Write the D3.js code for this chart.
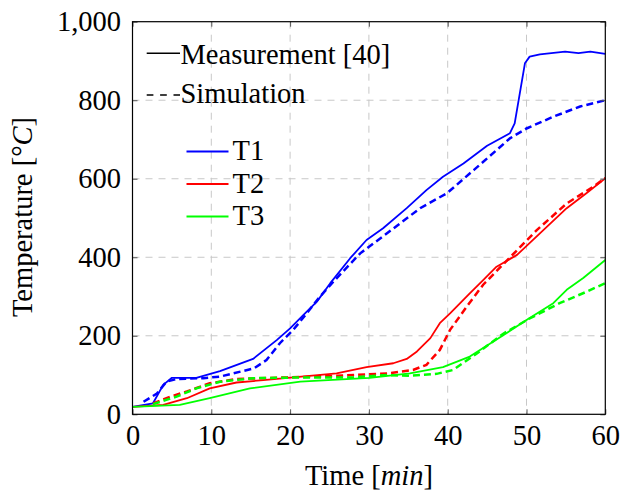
<!DOCTYPE html>
<html><head><meta charset="utf-8">
<script src="https://cdn.jsdelivr.net/npm/d3@7"></script>
<style>body{margin:0;background:#fff}svg{display:block}text{font-family:"Liberation Serif","Times New Roman",serif;fill:#000}</style>
</head><body><svg id="c" width="622" height="492"></svg>
<script>
const xTicks=[0,10,20,30,40,50,60];
const yTicks=[0,200,400,600,800,1000];
const t1Meas=[[0,19],[2.6,28],[3.9,75],[5,93],[8.1,93],[11.1,110],[15.3,141],[18.3,189],[20,219],[21.7,253],[23.4,287],[25.1,334],[27.6,397],[29.7,444],[31.8,474],[34.8,525],[37.3,571],[39.4,605],[42,639],[45,684],[47.9,716],[48.5,741],[49.8,894],[50.4,911],[51.7,917],[54.9,924],[56.6,920],[58.1,924],[60,918]];
const t1Sim=[[1.4,32],[3.1,53],[4.3,83],[5.6,90],[9,92],[11.1,96],[15.4,117],[17,138],[18.7,181],[20.4,215],[22.1,257],[23.8,300],[25.5,338],[28.9,410],[32.3,461],[36.5,525],[39.9,563],[43.3,622],[46.2,673],[47.9,703],[50,728],[53.4,758],[56.8,784],[60,800]];
const t2Meas=[[0,19],[3.9,24],[6.9,41],[9.8,66],[13.2,81],[16.6,87],[20.4,94],[25.9,104],[29.7,120],[33.1,130],[34.8,141],[36.1,160],[37.8,194],[39,232],[40.3,257],[42.8,308],[44.5,342],[46.2,376],[48.8,406],[51.7,461],[55.1,525],[57.6,563],[60,601]];
const t2Sim=[[2.6,28],[4.8,45],[6.9,58],[9.8,79],[13.2,90],[19.6,94],[25.9,98],[32.3,104],[35.6,113],[37.3,126],[39,164],[40.3,215],[42.4,274],[44.5,330],[48.8,418],[51.3,469],[55.1,537],[58.5,580],[60,602]];
const t3Meas=[[0,19],[6,24],[9.8,41],[14.9,66],[21.3,83],[30.1,93],[35.2,104],[39.4,120],[42.8,147],[47.1,202],[50,240],[53.4,283],[55.1,317],[57.2,347],[60,393]];
const t3Sim=[[2.6,26],[5.6,45],[8.1,66],[11.1,83],[15.3,92],[21.7,94],[28,94],[32.3,100],[35.2,98],[38.6,103],[40.7,113],[43.7,155],[47.1,206],[50.4,244],[54.2,283],[57.6,312],[60,334]];
const series=[
 {name:"T1",color:"#0000ff",meas:t1Meas,sim:t1Sim},
 {name:"T2",color:"#ff0000",meas:t2Meas,sim:t2Sim},
 {name:"T3",color:"#00ff00",meas:t3Meas,sim:t3Sim}];

const svg=d3.select("#c");
const L=132.5,R=605.3,T=21.7,B=414.3;
const x=d3.scaleLinear().domain([0,60]).range([L,R]);
const y=d3.scaleLinear().domain([0,1000]).range([B,T]);
const g=svg.append("g");
// grid
g.selectAll(".gx").data(xTicks.slice(1,-1)).enter().append("line")
 .attr("x1",d=>x(d)).attr("x2",d=>x(d)).attr("y1",T).attr("y2",B)
 .attr("stroke","#c8c8c8").attr("stroke-width",1).attr("stroke-dasharray","7,6");
g.selectAll(".gy").data(yTicks.slice(1,-1)).enter().append("line")
 .attr("y1",d=>y(d)).attr("y2",d=>y(d)).attr("x1",L).attr("x2",R)
 .attr("stroke","#c8c8c8").attr("stroke-width",1).attr("stroke-dasharray","7,6");
// lines
const line=d3.line().x(d=>x(d[0])).y(d=>y(d[1]));
series.forEach(s=>{
 g.append("path").attr("d",line(s.meas)).attr("fill","none").attr("stroke",s.color).attr("stroke-width",1.8).attr("stroke-linejoin","round");
 g.append("path").attr("d",line(s.sim)).attr("fill","none").attr("stroke",s.color).attr("stroke-width",2.5).attr("stroke-dasharray","7,4");
});
// axes
const fs=28.5;
const xa=d3.axisBottom(x).tickValues(xTicks).tickSize(-5).tickPadding(10.5).tickFormat(d3.format("d"));
const ya=d3.axisLeft(y).tickValues(yTicks).tickSize(-5).tickPadding(11.5).tickFormat(d3.format(","));
const gx=svg.append("g").attr("transform",`translate(0,${B})`).call(xa);
const gy=svg.append("g").attr("transform",`translate(${L},0)`).call(ya);
svg.append("g").attr("transform",`translate(0,${T})`).call(d3.axisTop(x).tickValues(xTicks).tickSize(-5).tickFormat(""));
svg.append("g").attr("transform",`translate(${R},0)`).call(d3.axisRight(y).tickValues(yTicks).tickSize(-5).tickFormat(""));
svg.selectAll(".domain").remove();
svg.selectAll(".tick line").attr("stroke","#555").attr("stroke-width",1);
gx.selectAll("text").attr("font-size",fs).attr("font-family","Liberation Serif").attr("fill","#000");
gy.selectAll("text").attr("font-size",fs).attr("font-family","Liberation Serif").attr("fill","#000");
svg.append("rect").attr("x",L).attr("y",T).attr("width",R-L).attr("height",B-T).attr("fill","none").attr("stroke","#000").attr("stroke-width",1.2);
// axis labels
const xl=svg.append("text").attr("x",(L+R)/2).attr("y",485).attr("text-anchor","middle").attr("font-size",fs);
xl.append("tspan").text("Time [");xl.append("tspan").attr("font-style","italic").text("min");xl.append("tspan").text("]");
const yl=svg.append("text").attr("transform",`translate(32,217) rotate(-90)`).attr("text-anchor","middle").attr("font-size",fs);
yl.append("tspan").text("Temperature [°");yl.append("tspan").attr("font-style","italic").text("C");yl.append("tspan").text("]");
// legend 1
const leg=[{label:"Measurement [40]",dash:null,y:53.3,by:64},{label:"Simulation",dash:"6.7,6.7",y:95,by:102.5}];
leg.forEach(l=>{
 svg.append("line").attr("x1",146.7).attr("x2",180).attr("y1",l.y).attr("y2",l.y).attr("stroke","#000").attr("stroke-width",1.6).attr("stroke-dasharray",l.dash);
 svg.append("text").attr("x",180.5).attr("y",l.by).attr("font-size",fs).text(l.label);
});
series.forEach((s,i)=>{
 const yy=151.5+i*32.5;
 svg.append("line").attr("x1",186.5).attr("x2",228.5).attr("y1",yy).attr("y2",yy).attr("stroke",s.color).attr("stroke-width",1.8);
 svg.append("text").attr("x",232.5).attr("y",yy+8.5).attr("font-size",fs).text(s.name);
});
</script></body></html>
